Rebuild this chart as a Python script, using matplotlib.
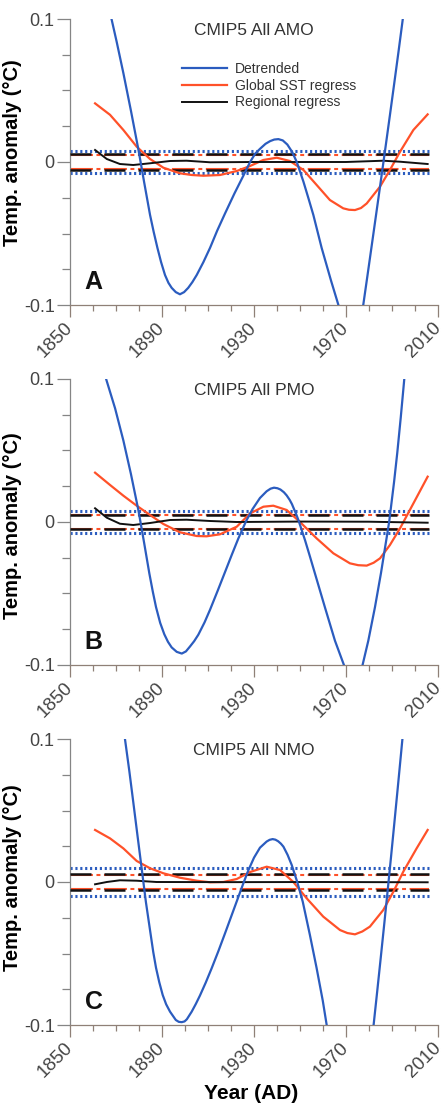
"""CMIP5 all-forcing multidecadal oscillation residuals (AMO, PMO, NMO)."""

import matplotlib

matplotlib.use("Agg")
import matplotlib.pyplot as plt
from matplotlib.ticker import MultipleLocator

plt.rcParams.update({
    "font.family": ["Liberation Sans", "DejaVu Sans"],
    "axes.linewidth": 0.9,
})

BLUE = "#2b5cbf"
ORANGE = "#ff5129"
BLACK = "#111111"
SPINE = "#8f8077"

titles = ["CMIP5 All AMO", "CMIP5 All PMO", "CMIP5 All NMO"]
panel_letters = ["A", "B", "C"]
series_labels = ["Detrended", "Global SST regress", "Regional regress"]

# ---- panel A (AMO) ----
det_a_years = [1865.5, 1867.7, 1870.3, 1873.2, 1876.5, 1879.7, 1880.7, 1882.2, 1884.8,
               1886.4, 1888.0, 1889.6, 1891.3, 1892.8, 1894.2, 1896.0, 1897.8, 1899.6,
               1901.4, 1903.2, 1905.1, 1908.0, 1910.9, 1914.0, 1917.4, 1921.5, 1925.4,
               1928.3, 1930.5, 1932.6, 1935.0, 1937.0, 1938.8, 1940.6, 1942.5, 1944.5,
               1946.6, 1948.6, 1951.5, 1953.6, 1955.8, 1959.4, 1963.5, 1966.7, 1969.0,
               1972.0, 1975.0, 1977.5, 1979.3, 1981.9, 1984.1, 1986.2, 1987.2, 1989.1,
               1990.9, 1992.8, 1994.5, 1995.5]
det_a = [0.118, 0.1025, 0.084, 0.0622, 0.0358, 0.009, 0.0, -0.0138, -0.037,
         -0.049, -0.060, -0.070, -0.079, -0.0845, -0.088, -0.091, -0.0925, -0.091,
         -0.088, -0.084, -0.079, -0.070, -0.060, -0.048, -0.036, -0.022, -0.0095,
         0.0, 0.0058, 0.0092, 0.0127, 0.0146, 0.0157, 0.016, 0.0151, 0.0122,
         0.007, 0.0, -0.0138, -0.025, -0.037, -0.060, -0.083, -0.100, -0.112,
         -0.118, -0.113, -0.100, -0.0798, -0.0503, -0.0252, -0.001, 0.0106, 0.0328,
         0.0541, 0.0768, 0.0976, 0.110]
glob_a_years = [1860.9, 1867.4, 1873.2, 1879.0, 1884.8, 1890.6, 1897.8, 1903.0, 1908.0,
                1915.2, 1922.5, 1928.3, 1934.0, 1939.9, 1945.6, 1951.5, 1957.2, 1963.0,
                1968.8, 1971.3, 1973.9, 1976.5, 1979.0, 1984.8, 1989.1, 1993.5, 1999.3,
                2005.5]
glob_a = [0.041, 0.033, 0.0224, 0.0107, 0.0021, -0.004, -0.0079, -0.0091, -0.0096,
          -0.0091, -0.0063, -0.0028, 0.0014, 0.003, 0.0007, -0.0056, -0.016, -0.0266,
          -0.0324, -0.0334, -0.0336, -0.0322, -0.029, -0.0172, -0.0056, 0.0072, 0.0224,
          0.0333]
reg_a_years = [1860.9, 1866.0, 1871.7, 1877.5, 1884.8, 1893.5, 1900.7, 1910.9, 1930.0,
               1950.0, 1970.0, 1986.2, 1993.5, 2005.5]
reg_a = [0.0084, 0.0021, -0.0014, -0.0021, -0.0009, 0.0007, 0.0009, -0.0002, 0.0,
         0.0, 0.0, 0.0009, 0.0002, -0.0014]
band_a = [0.008, 0.005, 0.0055]   # detrended, global, regional

# ---- panel B (PMO) ----
det_b_years = [1864.0, 1865.7, 1869.6, 1873.2, 1876.5, 1879.7, 1880.7, 1882.2, 1884.5,
               1886.0, 1887.4, 1889.2, 1891.0, 1892.6, 1894.2, 1896.4, 1898.6, 1900.4,
               1902.2, 1904.0, 1905.8, 1908.5, 1910.9, 1914.2, 1917.4, 1920.3, 1923.2,
               1926.5, 1929.4, 1932.6, 1935.5, 1937.2, 1938.7, 1940.2, 1941.5, 1943.0,
               1944.2, 1945.5, 1946.5, 1948.5, 1949.6, 1952.2, 1954.3, 1956.5, 1960.9,
               1965.2, 1969.1, 1971.5, 1974.0, 1977.2, 1979.7, 1982.6, 1985.2, 1987.7,
               1988.8, 1990.9, 1992.3, 1993.8, 1995.2, 1996.0]
det_b = [0.110, 0.100, 0.0795, 0.057, 0.0335, 0.0085, -0.0005, -0.0143, -0.036,
         -0.0487, -0.0595, -0.0705, -0.0785, -0.0838, -0.0877, -0.0908, -0.092, -0.0905,
         -0.087, -0.0833, -0.0788, -0.0702, -0.0613, -0.0481, -0.035, -0.0231, -0.0115,
         0.0004, 0.0091, 0.0168, 0.0215, 0.0233, 0.024, 0.0236, 0.0227, 0.0208,
         0.0186, 0.0155, 0.0125, 0.0048, 0.0, -0.0128, -0.024, -0.036, -0.060,
         -0.083, -0.100, -0.110, -0.112, -0.100, -0.083, -0.0595, -0.0358, -0.0107,
         0.0005, 0.028, 0.0485, 0.073, 0.0975, 0.112]
glob_b_years = [1860.9, 1867.4, 1873.2, 1879.0, 1884.8, 1890.6, 1897.8, 1905.1, 1909.4,
                1915.2, 1922.5, 1928.3, 1934.1, 1938.4, 1944.2, 1950.0, 1957.2, 1964.5,
                1971.7, 1975.3, 1979.0, 1982.0, 1984.8, 1989.1, 1993.5, 1999.3, 2005.5]
glob_b = [0.0345, 0.0259, 0.0184, 0.0114, 0.0049, -0.0014, -0.0072, -0.0098, -0.010,
          -0.0086, -0.0033, 0.006, 0.0107, 0.0114, 0.0084, 0.0, -0.0114, -0.0219,
          -0.0289, -0.0302, -0.0305, -0.0285, -0.0254, -0.0161, -0.0044, 0.013, 0.0317]
reg_b_years = [1860.9, 1866.0, 1871.7, 1877.5, 1884.8, 1893.5, 1900.7, 1910.9, 1922.5,
               1950.0, 1980.0, 2005.5]
reg_b = [0.0096, 0.003, -0.0012, -0.0021, -0.0007, 0.0014, 0.0016, 0.0007, 0.0,
         0.0003, 0.0002, -0.0005]
band_b = [0.0075, 0.005, 0.0052]

# ---- panel C (NMO) ----
det_c_years = [1872.5, 1873.9, 1875.8, 1877.5, 1879.3, 1881.2, 1881.9, 1883.0, 1885.1,
               1886.2, 1887.4, 1888.8, 1890.3, 1891.8, 1893.5, 1896.0, 1897.3, 1898.6,
               1899.8, 1900.8, 1902.9, 1904.7, 1906.5, 1909.0, 1911.6, 1914.5, 1917.4,
               1920.0, 1922.8, 1925.4, 1927.5, 1930.0, 1932.6, 1935.5, 1936.8, 1938.1,
               1939.3, 1940.5, 1941.7, 1942.8, 1944.6, 1946.4, 1948.8, 1951.2, 1954.3,
               1957.2, 1959.9, 1961.6, 1964.0, 1972.0, 1980.0, 1982.0, 1983.5, 1985.0,
               1986.5, 1988.0, 1989.5, 1991.0, 1992.5, 1994.0, 1995.0]
det_c = [0.117, 0.100, 0.0775, 0.056, 0.033, 0.009, 0.0, -0.014, -0.037,
         -0.049, -0.060, -0.070, -0.079, -0.0855, -0.0907, -0.0965, -0.0978, -0.098,
         -0.0975, -0.096, -0.0907, -0.0853, -0.0794, -0.0704, -0.0603, -0.0484, -0.0359,
         -0.0245, -0.0122, -0.0008, 0.008, 0.017, 0.024, 0.0283, 0.0295, 0.030,
         0.0296, 0.0285, 0.0268, 0.0247, 0.019, 0.0119, 0.0, -0.0138, -0.037,
         -0.060, -0.083, -0.100, -0.120, -0.150, -0.120, -0.100, -0.0775, -0.0546,
         -0.0314, -0.0078, 0.0163, 0.0409, 0.0658, 0.091, 0.108]
glob_c_years = [1860.9, 1867.4, 1873.2, 1879.0, 1884.8, 1890.6, 1897.8, 1905.1, 1910.9,
                1916.7, 1922.5, 1928.3, 1935.5, 1941.3, 1947.1, 1952.9, 1960.1, 1967.4,
                1970.6, 1973.9, 1977.1, 1980.4, 1986.2, 1990.6, 1994.9, 2000.7, 2005.5]
glob_c = [0.0364, 0.0305, 0.0235, 0.0147, 0.0096, 0.0061, 0.003, 0.0009, -0.0002,
          0.0, 0.0021, 0.007, 0.0107, 0.0084, 0.0, -0.0114, -0.0242, -0.0336,
          -0.0357, -0.0366, -0.0346, -0.0312, -0.0196, -0.0068, 0.0072, 0.0235, 0.0364]
reg_c_years = [1860.9, 1866.0, 1871.7, 1879.0, 1887.6, 1920.0, 1960.0, 2005.5]
reg_c = [-0.0016, 0.0, 0.0012, 0.0009, 0.0, -0.0001, 0.0, -0.0002]
band_c = [0.0098, 0.005, 0.0053]

band_years = [1850, 2006]

panels = [
    (det_a_years, det_a, glob_a_years, glob_a, reg_a_years, reg_a, band_a),
    (det_b_years, det_b, glob_b_years, glob_b, reg_b_years, reg_b, band_b),
    (det_c_years, det_c, glob_c_years, glob_c, reg_c_years, reg_c, band_c),
]

W, H = 446, 1105
fig = plt.figure(figsize=(W / 100, H / 100), dpi=100)
axes_tops = [19, 379, 739]
axes_h = 286
ylabel_y = [0.533, 0.486, 0.516]

for i, (dy, dv, gy, gv, ry, rv, band) in enumerate(panels):
    top = axes_tops[i]
    ax = fig.add_axes([70 / W, 1 - (top + axes_h) / H, 368 / W, axes_h / H])

    # significance bands
    for sign in (1, -1):
        ax.plot(band_years, [sign * band[0]] * 2, color=BLUE, lw=2.2,
                dashes=(0.7, 0.9), zorder=2)
        ax.plot(band_years, [sign * band[1]] * 2, color=ORANGE, lw=1.5,
                dashes=(11.0, 1.7, 1.9, 1.7), zorder=2)
        ax.plot(band_years, [sign * band[2]] * 2, color=BLACK, lw=1.8,
                dashes=(8.4, 5.2), zorder=3)

    l1, = ax.plot(dy, dv, color=BLUE, lw=1.6, zorder=5)
    l2, = ax.plot(gy, gv, color=ORANGE, lw=1.6, zorder=4)
    l3, = ax.plot(ry, rv, color=BLACK, lw=1.4, zorder=4)

    ax.set_xlim(1850, 2010)
    ax.set_ylim(-0.1, 0.1)
    ax.spines["top"].set_visible(False)
    ax.spines["right"].set_visible(False)
    ax.spines["left"].set_color("#858585")
    ax.spines["bottom"].set_color(SPINE)

    ax.set_xticks([1850, 1890, 1930, 1970, 2010])
    ax.set_xticklabels(["1850", "1890", "1930", "1970", "2010"], rotation=45,
                       ha="right", va="center", rotation_mode="anchor")
    ax.xaxis.set_minor_locator(MultipleLocator(10))
    ax.set_yticks([-0.1, 0, 0.1])
    ax.set_yticklabels(["-0.1", "0", "0.1"])
    ax.yaxis.set_minor_locator(MultipleLocator(0.025))
    ax.tick_params(axis="x", which="major", length=8.5, width=0.9, color=SPINE,
                   labelsize=13.5, labelcolor="#444444", pad=6)
    ax.tick_params(axis="x", which="minor", length=4, width=0.9, color=SPINE)
    ax.tick_params(axis="y", which="major", length=9.5, width=0.9, color="#858585",
                   labelsize=13, labelcolor="#444444", pad=1.5)
    ax.tick_params(axis="y", which="minor", length=6, width=0.9, color="#858585")

    ax.set_ylabel("Temp. anomaly (°C)", fontsize=14.5, fontweight="bold")
    ax.yaxis.set_label_coords(-0.13, ylabel_y[i])

    ax.text(0.5, 0.959, titles[i], transform=ax.transAxes, ha="center", va="center",
            fontsize=12.5, color="#333333")
    ax.text(0.04, 0.04, panel_letters[i], transform=ax.transAxes, ha="left",
            va="bottom", fontsize=18, fontweight="bold", color="#111111")

    if i == 0:
        ax.legend([l1, l2, l3], series_labels, loc="upper left",
                  bbox_to_anchor=(0.305, 0.85), frameon=False, fontsize=10,
                  handlelength=3.2, handletextpad=0.6, labelspacing=0.2,
                  borderpad=0, borderaxespad=0, labelcolor="#333333")

fig.text(251 / W, 1 - 1099 / H, "Year (AD)", ha="center", va="baseline",
         fontsize=15, fontweight="bold")

fig.savefig("out.png", dpi=100, facecolor="white")
